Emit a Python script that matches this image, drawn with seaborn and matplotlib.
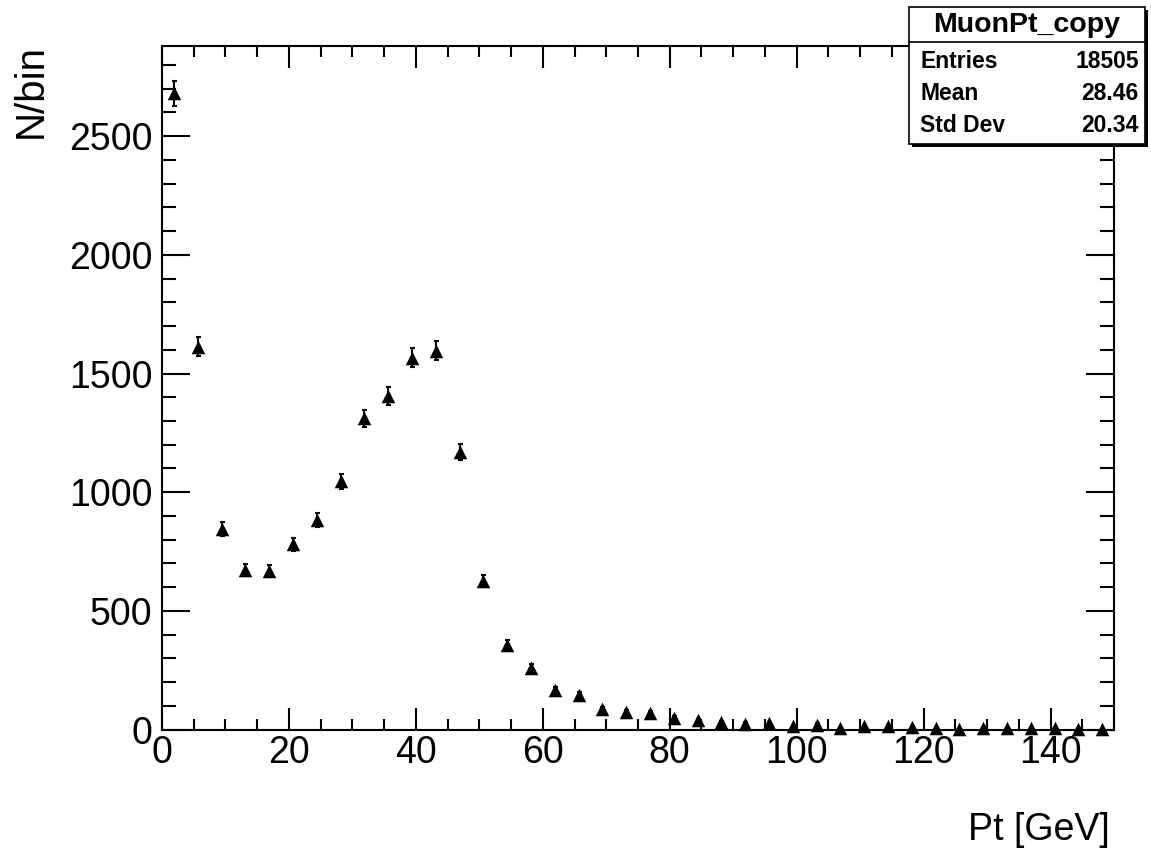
import numpy as np
import pandas as pd
import matplotlib
matplotlib.use("Agg")
import matplotlib.pyplot as plt
from matplotlib.patches import Rectangle
from matplotlib.ticker import MultipleLocator
import seaborn as sns

# Histogram contents (40 bins, 0-150 GeV)
bin_edges = np.linspace(0, 150, 41)
counts = [2680, 1612, 846, 673, 667, 780, 884, 1045, 1312, 1405,
          1567, 1595, 1169, 625, 358, 260, 167, 147, 85, 74,
          68, 50, 38, 32, 25, 26, 16, 21, 5, 13,
          13, 10, 6, 1, 6, 5, 6, 8, 3, 1]

stats_title = "MuonPt_copy"
stats_names = ["Entries", "Mean", "Std Dev"]
stats_values = ["18505", "28.46", "20.34"]

df = pd.DataFrame({
    "pt": (bin_edges[:-1] + bin_edges[1:]) / 2,
    "n": counts,
})
df["err"] = np.sqrt(df["n"])

sns.set_style("ticks")
plt.rcParams["font.family"] = ["Liberation Sans", "DejaVu Sans"]
plt.rcParams["text.color"] = "black"
plt.rcParams["axes.labelcolor"] = "black"
plt.rcParams["xtick.color"] = "black"
plt.rcParams["ytick.color"] = "black"

W, H = 1151, 852
fig = plt.figure(figsize=(W / 100, H / 100), dpi=100)
ax = fig.add_axes([162 / W, 1 - 729.5 / H, (1114 - 162) / W, (729.5 - 46) / H])

ax.errorbar(df["pt"], df["n"], yerr=df["err"], fmt="none",
            ecolor="black", elinewidth=1.5, capsize=1.8, capthick=1.5)
sns.scatterplot(data=df, x="pt", y="n", marker="^", s=95,
                color="black", edgecolor="black", linewidth=0, ax=ax,
                zorder=3, clip_on=False)

ax.set_xlim(0, 150)
ax.set_ylim(0, 2880)
ax.xaxis.set_major_locator(MultipleLocator(20))
ax.xaxis.set_minor_locator(MultipleLocator(5))
ax.yaxis.set_major_locator(MultipleLocator(500))
ax.yaxis.set_minor_locator(MultipleLocator(100))
ax.tick_params(which="both", direction="in", top=True, right=True,
               labelsize=27, width=1.5, colors="black")
ax.tick_params(axis="x", which="major", length=16, pad=4)
ax.tick_params(axis="x", which="minor", length=8)
ax.tick_params(axis="y", which="major", length=20, pad=7)
ax.tick_params(axis="y", which="minor", length=10)
for sp in ax.spines.values():
    sp.set_linewidth(1.5)
    sp.set_color("black")

ax.set_xlabel("")
ax.set_ylabel("")
fig.text(1110 / W, 1 - 840 / H, "Pt [GeV]", fontsize=27,
         ha="right", va="baseline", color="black")
fig.text(12 / W, 1 - 44 / H, "N/bin", fontsize=29, rotation=90,
         ha="left", va="top", color="black")

# ROOT style stats box
bx0, by0, bx1, by1 = 909, 7, 1145, 144
fig.patches.append(Rectangle(((bx0 + 3) / W, 1 - (by1 + 3) / H),
                             (bx1 - bx0) / W, (by1 - by0) / H,
                             transform=fig.transFigure, facecolor="black",
                             edgecolor="none", zorder=5))
fig.patches.append(Rectangle((bx0 / W, 1 - by1 / H),
                             (bx1 - bx0) / W, (by1 - by0) / H,
                             transform=fig.transFigure, facecolor="white",
                             edgecolor="black", linewidth=1.2, zorder=6))
fig.add_artist(plt.Line2D([bx0 / W, bx1 / W], [1 - 42 / H, 1 - 42 / H],
                          transform=fig.transFigure, color="black",
                          linewidth=1.2, zorder=7))
fig.text((bx0 + bx1) / 2 / W, 1 - 25 / H, stats_title, fontsize=20.5,
         fontweight="bold", ha="center", va="center", zorder=8, color="black")
for i, (name, val) in enumerate(zip(stats_names, stats_values)):
    yy = 1 - (61 + i * 32.5) / H
    fig.text(920 / W, yy, name, fontsize=16.5, fontweight="bold",
             ha="left", va="center", zorder=8, color="black")
    fig.text(1139 / W, yy, val, fontsize=16.5, fontweight="bold",
             ha="right", va="center", zorder=8, color="black")

fig.savefig("out.png", dpi=100, facecolor="white")
